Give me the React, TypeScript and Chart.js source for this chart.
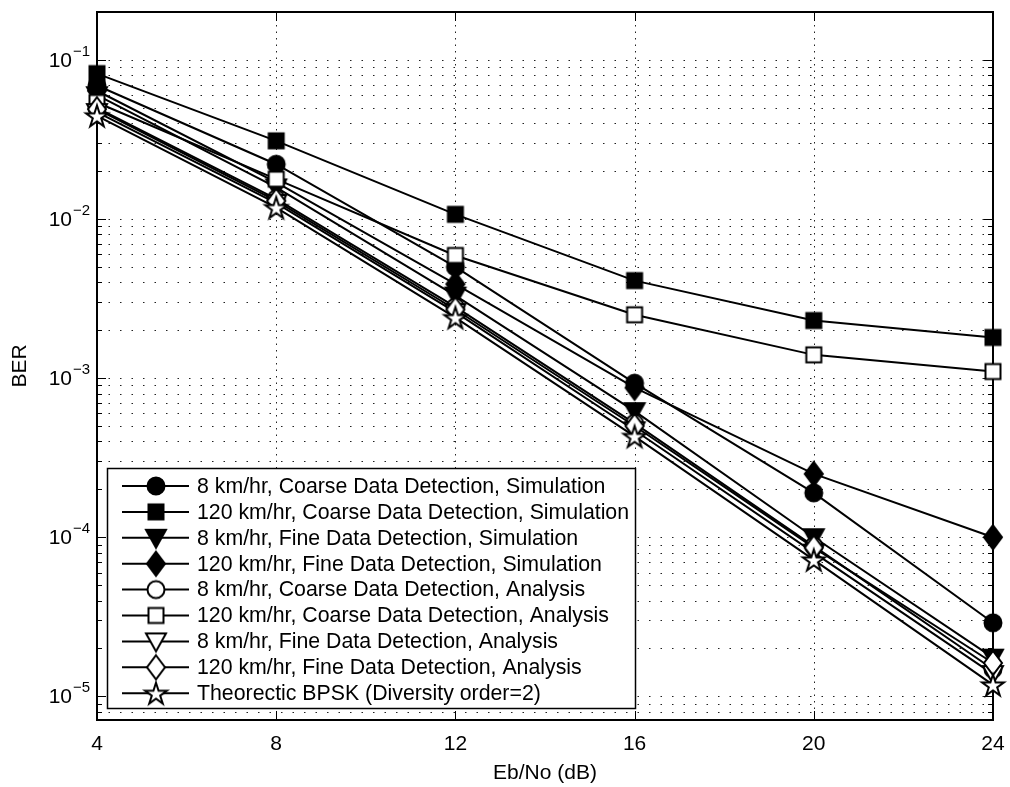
import React, { useEffect, useRef } from "react";
import { Chart, registerables } from "chart.js";

Chart.register(...registerables);

// Eb/No axis (dB)
const ebNo = [4, 8, 12, 16, 20, 24];

// Bit error rate per curve
const coarse8Sim = [0.069, 0.0221, 0.005, 0.00093, 0.00019, 0.000029];
const coarse120Sim = [0.082, 0.031, 0.0107, 0.0041, 0.0023, 0.0018];
const fine8Sim = [0.06, 0.0158, 0.0033, 0.00062, 0.0001, 0.0000175];
const fine120Sim = [0.064, 0.017, 0.0039, 0.00087, 0.00025, 0.0001];
const coarse8Ana = [0.05, 0.0134, 0.0028, 0.00052, 0.000088, 0.0000148];
const coarse120Ana = [0.054, 0.0178, 0.0059, 0.0025, 0.0014, 0.0011];
const fine8Ana = [0.047, 0.0126, 0.0026, 0.00047, 0.00008, 0.0000138];
const fine120Ana = [0.049, 0.013, 0.0027, 0.0005, 0.000086, 0.0000162];
const theoryBpsk = [0.0445, 0.0118, 0.0024, 0.00043, 0.000072, 0.0000118];

const seriesNames = [
  "8 km/hr, Coarse Data Detection, Simulation",
  "120 km/hr, Coarse Data Detection, Simulation",
  "8 km/hr, Fine Data Detection, Simulation",
  "120 km/hr, Fine Data Detection, Simulation",
  "8 km/hr, Coarse Data Detection, Analysis",
  "120 km/hr, Coarse Data Detection, Analysis",
  "8 km/hr, Fine Data Detection, Analysis",
  "120 km/hr, Fine Data Detection, Analysis",
  "Theorectic BPSK (Diversity order=2)",
];
const seriesValues = [
  coarse8Sim,
  coarse120Sim,
  fine8Sim,
  fine120Sim,
  coarse8Ana,
  coarse120Ana,
  fine8Ana,
  fine120Ana,
  theoryBpsk,
];
const seriesMarkers: [string, boolean][] = [
  ["circle", true],
  ["square", true],
  ["triangleDown", true],
  ["diamond", true],
  ["circle", false],
  ["square", false],
  ["triangleDown", false],
  ["diamond", false],
  ["star", false],
];

const xTicks = [4, 8, 12, 16, 20, 24];
const yDecades = [-5, -4, -3, -2, -1];
const yMin = 7.1e-6;
const yMax = 0.2;

const FONT = '"Liberation Sans", Arial, Helvetica, sans-serif';

function makeMarker(shape: string, filled: boolean): HTMLCanvasElement {
  const size = 32;
  const c = document.createElement("canvas");
  c.width = size;
  c.height = size;
  const g = c.getContext("2d")!;
  const m = size / 2;
  g.lineWidth = 2;
  g.strokeStyle = "#000";
  g.fillStyle = filled ? "#000" : "#fff";
  g.lineJoin = "miter";
  g.beginPath();
  if (shape === "circle") {
    g.arc(m, m, 8.5, 0, Math.PI * 2);
  } else if (shape === "square") {
    g.rect(m - 7.5, m - 7.5, 15, 15);
  } else if (shape === "triangleDown") {
    g.moveTo(m - 10, m - 8);
    g.lineTo(m + 10, m - 8);
    g.lineTo(m, m + 10);
    g.closePath();
  } else if (shape === "diamond") {
    g.moveTo(m, m - 12);
    g.lineTo(m + 9, m);
    g.lineTo(m, m + 12);
    g.lineTo(m - 9, m);
    g.closePath();
  } else {
    const R = 11.5;
    const r = R * 0.382;
    for (let i = 0; i < 10; i++) {
      const rad = i % 2 === 0 ? R : r;
      const ang = -Math.PI / 2 + (i * Math.PI) / 5;
      const px = m + rad * Math.cos(ang);
      const py = m + 1 + rad * Math.sin(ang);
      if (i === 0) g.moveTo(px, py);
      else g.lineTo(px, py);
    }
    g.closePath();
  }
  g.fill();
  g.stroke();
  return c;
}

function makeBerPlotPlugin(markers: HTMLCanvasElement[]) {
  return {
    id: "berPlot",
    beforeDatasetsDraw(chart: any) {
      const { ctx, chartArea: a, scales } = chart;
      const x = scales.x;
      const y = scales.y;
      ctx.save();
      ctx.strokeStyle = "#222";
      ctx.lineWidth = 1;
      // dotted horizontal grid at every log subdivision
      ctx.setLineDash([1.5, 10]);
      for (let e = -6; e <= 0; e++) {
        for (let k = 1; k <= 9; k++) {
          const v = k * Math.pow(10, e);
          if (v <= yMin || v >= yMax) continue;
          const py = Math.round(y.getPixelForValue(v)) + 0.5;
          ctx.beginPath();
          ctx.moveTo(a.left, py);
          ctx.lineTo(a.right, py);
          ctx.stroke();
        }
      }
      // dotted vertical grid at x ticks
      ctx.setLineDash([1.5, 5]);
      for (const t of xTicks) {
        if (t === xTicks[0] || t === xTicks[xTicks.length - 1]) continue;
        const px = Math.round(x.getPixelForValue(t)) + 0.5;
        ctx.beginPath();
        ctx.moveTo(px, a.top);
        ctx.lineTo(px, a.bottom);
        ctx.stroke();
      }
      ctx.setLineDash([]);

      // axes box
      ctx.strokeStyle = "#000";
      ctx.lineWidth = 2;
      ctx.strokeRect(a.left, a.top, a.right - a.left, a.bottom - a.top);

      // inward tick marks
      ctx.lineWidth = 1;
      for (let e = -6; e <= 0; e++) {
        for (let k = 1; k <= 9; k++) {
          const v = k * Math.pow(10, e);
          if (v <= yMin || v >= yMax) continue;
          const len = k === 1 ? 9 : 5;
          const py = Math.round(y.getPixelForValue(v)) + 0.5;
          ctx.beginPath();
          ctx.moveTo(a.left, py);
          ctx.lineTo(a.left + len, py);
          ctx.moveTo(a.right, py);
          ctx.lineTo(a.right - len, py);
          ctx.stroke();
        }
      }
      for (const t of xTicks) {
        const px = Math.round(x.getPixelForValue(t)) + 0.5;
        ctx.beginPath();
        ctx.moveTo(px, a.bottom);
        ctx.lineTo(px, a.bottom - 9);
        ctx.moveTo(px, a.top);
        ctx.lineTo(px, a.top + 9);
        ctx.stroke();
      }
      ctx.restore();
    },
    afterDraw(chart: any) {
      const { ctx, chartArea: a, scales } = chart;
      const x = scales.x;
      const y = scales.y;
      ctx.save();
      ctx.fillStyle = "#000";

      // x tick labels
      ctx.font = `21px ${FONT}`;
      ctx.textAlign = "center";
      ctx.textBaseline = "middle";
      for (const t of xTicks) {
        ctx.fillText(String(t), x.getPixelForValue(t), a.bottom + 24);
      }

      // y tick labels as powers of ten
      for (const e of yDecades) {
        const py = y.getPixelForValue(Math.pow(10, e));
        ctx.font = `21px ${FONT}`;
        ctx.textAlign = "right";
        ctx.fillText("10", 72, py + 1);
        ctx.font = `15px ${FONT}`;
        ctx.textAlign = "left";
        ctx.fillText("\u2212" + String(-e), 73, py - 8);
      }

      // axis titles
      ctx.font = `21px ${FONT}`;
      ctx.textAlign = "center";
      ctx.fillText("Eb/No (dB)", (a.left + a.right) / 2, a.bottom + 53);
      ctx.save();
      ctx.translate(20, (a.top + a.bottom) / 2);
      ctx.rotate(-Math.PI / 2);
      ctx.fillText("BER", 0, 0);
      ctx.restore();

      // legend
      const lx = 107.5;
      const ly = 468.5;
      const lw = 528;
      const lh = 240;
      ctx.fillStyle = "#fff";
      ctx.fillRect(lx, ly, lw, lh);
      ctx.strokeStyle = "#000";
      ctx.lineWidth = 1.5;
      ctx.strokeRect(lx, ly, lw, lh);
      ctx.textAlign = "left";
      ctx.textBaseline = "middle";
      ctx.font = `21.3px ${FONT}`;
      seriesNames.forEach((name, i) => {
        const ry = 486 + i * 25.9;
        ctx.strokeStyle = "#000";
        ctx.lineWidth = 2;
        ctx.beginPath();
        ctx.moveTo(122, ry);
        ctx.lineTo(189, ry);
        ctx.stroke();
        const mk = markers[i];
        ctx.drawImage(mk, 156 - mk.width / 2, ry - mk.height / 2);
        ctx.fillStyle = "#000";
        ctx.fillText(name, 197, ry + 1);
      });
      ctx.restore();
    },
  };
}

export default function App() {
  const ref = useRef<HTMLCanvasElement>(null);

  useEffect(() => {
    const markers = seriesMarkers.map(([s, f]) => makeMarker(s, f));
    const datasets = seriesValues.map((vals, i) => ({
      label: seriesNames[i],
      data: vals.map((v, j) => ({ x: ebNo[j], y: v })),
      borderColor: "#000",
      backgroundColor: "#000",
      borderWidth: 2,
      pointStyle: markers[i],
      pointRadius: 10,
      tension: 0,
      fill: false,
      clip: false as const,
      order: seriesValues.length - i,
    }));
    const chart = new Chart(ref.current!, {
      type: "line",
      data: { datasets },
      options: {
        responsive: false,
        animation: false,
        events: [],
        layout: { padding: { left: 97, right: 17, top: 10, bottom: 67 } },
        scales: {
          x: { type: "linear", min: 4, max: 24, display: false },
          y: { type: "logarithmic", min: yMin, max: yMax, display: false },
        },
        plugins: {
          legend: { display: false },
          tooltip: { enabled: false },
        },
      },
      plugins: [makeBerPlotPlugin(markers)],
    } as any);
    return () => chart.destroy();
  }, []);

  return (
    <div style={{ position: "fixed", left: 0, top: 0, width: 1010, height: 787, background: "#fff" }}>
      <canvas ref={ref} width={1010} height={787} style={{ display: "block" }} />
    </div>
  );
}
